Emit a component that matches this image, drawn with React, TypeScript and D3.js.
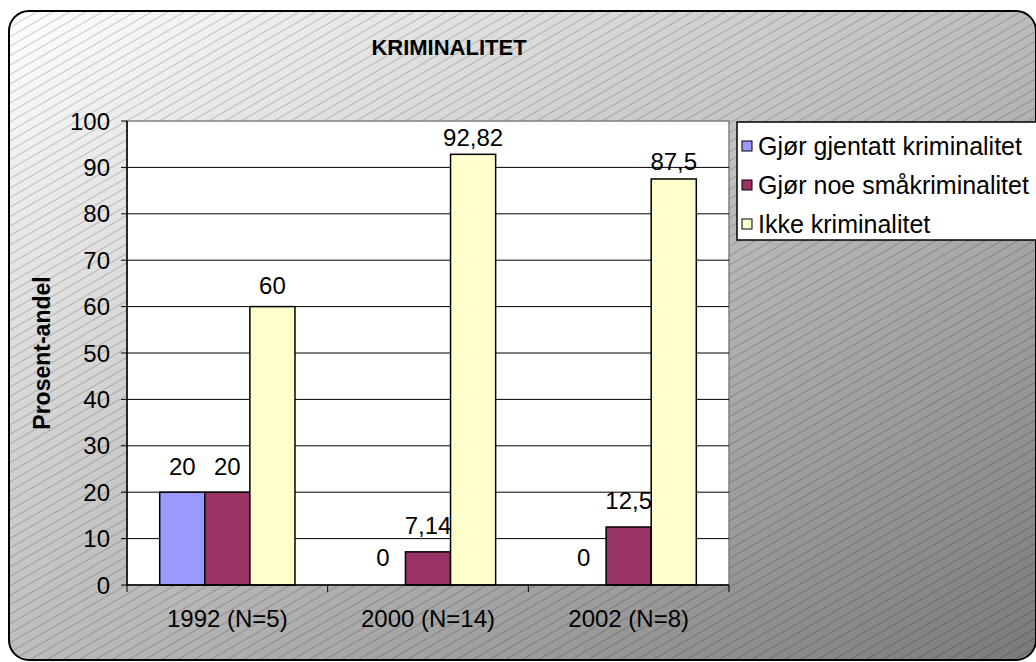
import React from "react";
import * as d3 from "d3";

const title = "KRIMINALITET";
const yAxisTitle = "Prosent-andel";
const categories = ["1992 (N=5)", "2000 (N=14)", "2002 (N=8)"];
const seriesNames = ["Gjør gjentatt kriminalitet", "Gjør noe småkriminalitet", "Ikke kriminalitet"];
const gjentatt = [20, 0, 0];
const smaakriminalitet = [20, 7.14, 12.5];
const ikkeKriminalitet = [60, 92.82, 87.5];
const yTicks = [0, 10, 20, 30, 40, 50, 60, 70, 80, 90, 100];
const seriesColors = ["#9999FF", "#993366", "#FFFFCC"];

const W = 1036;
const H = 662;
const FONT = "'Liberation Sans', Arial, sans-serif";

export default function App() {
  const series = [gjentatt, smaakriminalitet, ikkeKriminalitet];
  const left = 127, right = 729, top = 121, bottom = 585;
  const x = d3.scaleBand().domain(categories).range([left, right]).paddingInner(0).paddingOuter(0);
  const y = d3.scaleLinear().domain([0, 100]).range([bottom, top]);
  const bw = x.bandwidth() / (3 + 1.45);
  const off = (x.bandwidth() - 3 * bw) / 2;
  const fmt = (v: number) => String(v).replace(".", ",");

  return (
    <svg width={W} height={H} style={{ position: "fixed", left: 0, top: 0 }} fontFamily={FONT}>
      <defs>
        <linearGradient id="bg" x1="0" y1="0" x2="1" y2="1">
          <stop offset="0" stopColor="#ffffff" />
          <stop offset="1" stopColor="#7a7a7a" />
        </linearGradient>
        <pattern id="hatch" patternUnits="userSpaceOnUse" width="40" height="8.2" patternTransform="rotate(-30)">
          <line x1="0" y1="4" x2="40" y2="4" stroke="rgba(0,0,0,0.26)" strokeWidth="0.8" />
        </pattern>
        <clipPath id="frameClip">
          <rect x={9} y={11} width={1027} height={649} rx={20} />
        </clipPath>
      </defs>
      <rect width={W} height={H} fill="#ffffff" />
      <g clipPath="url(#frameClip)">
        <rect x={9} y={11} width={1027} height={649} fill="url(#bg)" />
        <rect x={9} y={11} width={1027} height={649} fill="url(#hatch)" />
      </g>
      <rect x={9} y={11} width={1027} height={649} rx={20} fill="none" stroke="#000" strokeWidth={2} />

      <text x={449} y={55} textAnchor="middle" fontWeight="bold" fontSize={22}>{title}</text>

      {/* plot area */}
      <rect x={left} y={top} width={right - left} height={bottom - top} fill="#ffffff" stroke="#808080" strokeWidth={1.5} />
      {yTicks.filter((t) => t > 0 && t < 100).map((t) => (
        <line key={t} x1={left} x2={right} y1={y(t)} y2={y(t)} stroke="#000" strokeWidth={1} />
      ))}

      {categories.map((c, ci) => (
        <g key={c}>
          {series.map((s, si) => (
            <rect key={si} x={(x(c) as number) + off + si * bw} y={y(s[ci])} width={bw}
              height={bottom - y(s[ci])} fill={seriesColors[si]} stroke="#000" strokeWidth={1.5} />
          ))}
        </g>
      ))}

      {categories.map((c, ci) => (
        <g key={"l" + c}>
          {series.map((s, si) => (
            <text key={si} x={(x(c) as number) + off + si * bw + bw / 2}
              y={y(s[ci]) - (8 + (100 - s[ci]) * 0.11)} textAnchor="middle" fontSize={24}>{fmt(s[ci])}</text>
          ))}
        </g>
      ))}

      {/* axes */}
      <line x1={left} x2={left} y1={top} y2={bottom} stroke="#000" strokeWidth={1.5} />
      <line x1={left} x2={right} y1={bottom} y2={bottom} stroke="#000" strokeWidth={1.5} />
      {yTicks.map((t) => (
        <g key={"t" + t}>
          <line x1={left - 6} x2={left} y1={y(t)} y2={y(t)} stroke="#000" strokeWidth={1} />
          <text x={left - 17} y={y(t) + 8.5} textAnchor="end" fontSize={24}>{t}</text>
        </g>
      ))}
      {[...categories.map((c) => x(c) as number), right].map((px, i) => (
        <line key={"ct" + i} x1={px} x2={px} y1={bottom} y2={bottom + 7} stroke="#000" strokeWidth={1} />
      ))}
      {categories.map((c) => (
        <text key={"cl" + c} x={(x(c) as number) + x.bandwidth() / 2} y={627} textAnchor="middle" fontSize={24}>{c}</text>
      ))}

      <text transform="translate(50,353) rotate(-90)" textAnchor="middle" fontWeight="bold" fontSize={23}>{yAxisTitle}</text>

      {/* legend */}
      <rect x={737} y={122} width={320} height={118} fill="#ffffff" stroke="#000" strokeWidth={1.5} />
      {seriesNames.map((n, i) => (
        <g key={n}>
          <rect x={742} y={141 + i * 39} width={10} height={10} fill={seriesColors[i]} stroke="#000" strokeWidth={1} />
          <text x={758} y={155 + i * 39} fontSize={25}>{n}</text>
        </g>
      ))}
    </svg>
  );
}
